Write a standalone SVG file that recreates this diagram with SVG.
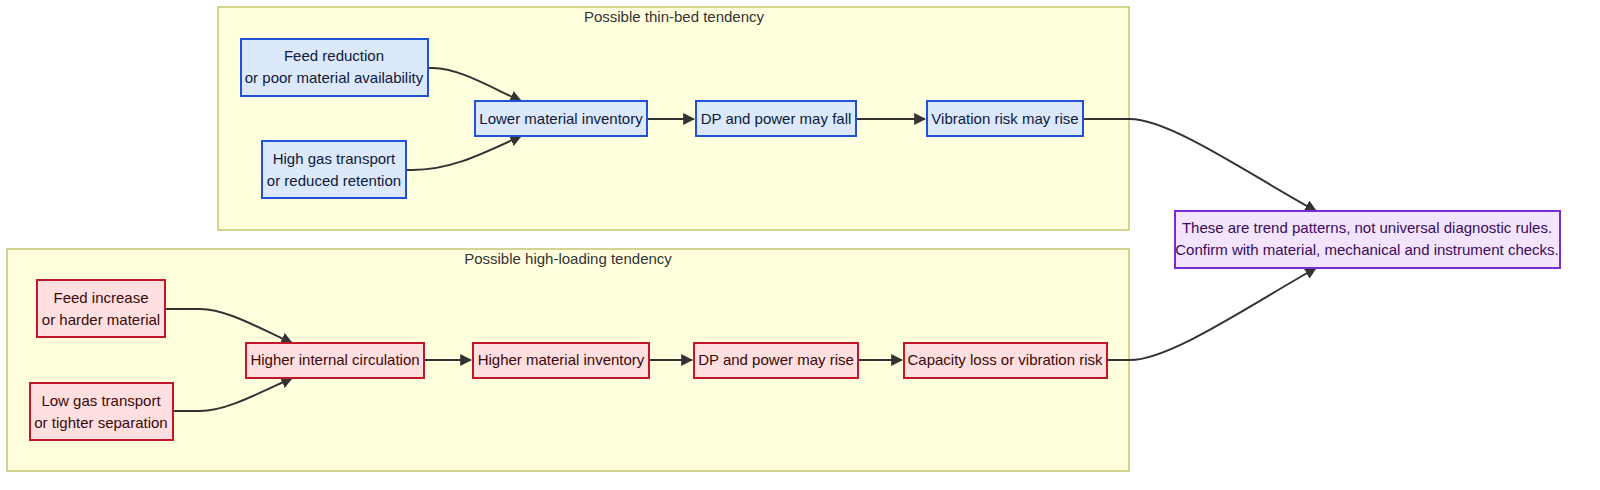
<svg xmlns="http://www.w3.org/2000/svg" width="1600" height="490" viewBox="0 0 1600 490">
<style>
text{font-family:"Liberation Sans",Arial,sans-serif;font-size:15px;text-anchor:middle;fill:#333}
.cl{fill:#ffffde;stroke:#aaaa33;stroke-width:1}
.b rect{fill:#dce8fc;stroke:#2052d8;stroke-width:2}
.b text{fill:#0d1a3a}
.r rect{fill:#ffdfdf;stroke:#c4162a;stroke-width:2}
.r text{fill:#3a0a0a}
.p rect{fill:#f3e4fd;stroke:#7a2bd0;stroke-width:2}
.p text{fill:#3a0a5c}
.e path{fill:none;stroke:#333;stroke-width:2;marker-end:url(#a)}
</style>
<defs><marker id="a" viewBox="0 0 10 10" refX="9" refY="5" markerWidth="6" markerHeight="6" orient="auto"><path d="M0,0L10,5L0,10z" fill="#333"/></marker></defs>
<rect fill="#fff" width="1600" height="490"/>
<g id="c1"><rect class="cl" x="218" y="7" width="911" height="223"/><text x="674" y="22">Possible thin-bed tendency</text></g>
<g id="c2"><rect class="cl" x="7" y="249" width="1122" height="222"/><text x="568" y="264">Possible high-loading tendency</text></g>
<g id="edges" class="e">
<path d="M428,68 L433,68 C458,68 488,86 521,101"/>
<path d="M406,170 L412,170 C450,170 480,155 521,136"/>
<path d="M647,119 L694,119"/>
<path d="M856,119 L925,119"/>
<path d="M1083,119 L1130,119 C1170,119 1250,175 1316,211"/>
<path d="M165,309 L200,309 C225,309 255,326 292,343"/>
<path d="M173,411 L200,411 C225,411 255,395 292,378"/>
<path d="M424,360 L471,360"/>
<path d="M649,360 L692,360"/>
<path d="M858,360 L902,360"/>
<path d="M1107,360 L1130,360 C1170,360 1250,305 1316,268"/>
</g>
<g id="n1" class="b"><rect x="241" y="39" width="187" height="57"/><text x="334" y="61">Feed reduction</text><text x="334" y="83">or poor material availability</text></g>
<g id="n2" class="b"><rect x="262" y="141" width="144" height="57"/><text x="334" y="164">High gas transport</text><text x="334" y="186">or reduced retention</text></g>
<g id="n3" class="b"><rect x="475" y="101" width="172" height="35"/><text x="561" y="124">Lower material inventory</text></g>
<g id="n4" class="b"><rect x="696" y="101" width="160" height="35"/><text x="776" y="124">DP and power may fall</text></g>
<g id="n5" class="b"><rect x="927" y="101" width="156" height="35"/><text x="1005" y="124">Vibration risk may rise</text></g>
<g id="n6" class="r"><rect x="37" y="280" width="128" height="57"/><text x="101" y="303">Feed increase</text><text x="101" y="325">or harder material</text></g>
<g id="n7" class="r"><rect x="30" y="383" width="143" height="57"/><text x="101" y="406">Low gas transport</text><text x="101" y="428">or tighter separation</text></g>
<g id="n8" class="r"><rect x="246" y="343" width="178" height="35"/><text x="335" y="365">Higher internal circulation</text></g>
<g id="n9" class="r"><rect x="473" y="343" width="176" height="35"/><text x="561" y="365">Higher material inventory</text></g>
<g id="n10" class="r"><rect x="694" y="343" width="164" height="35"/><text x="776" y="365">DP and power may rise</text></g>
<g id="n11" class="r"><rect x="904" y="343" width="203" height="35"/><text x="1005" y="365">Capacity loss or vibration risk</text></g>
<g id="n12" class="p"><rect x="1175" y="211" width="385" height="57"/><text x="1367" y="233">These are trend patterns, not universal diagnostic rules.</text><text x="1367" y="255">Confirm with material, mechanical and instrument checks.</text></g>
</svg>
